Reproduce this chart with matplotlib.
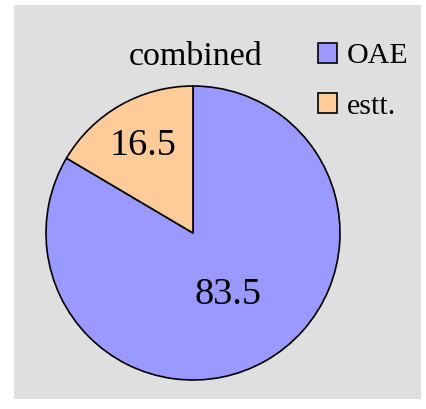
import numpy as np
import matplotlib
matplotlib.use("Agg")
import matplotlib.pyplot as plt
from matplotlib.patches import Patch

title = "combined"
categories = ["OAE", "estt."]
values = [83.5, 16.5]
value_labels = ["83.5", "16.5"]
colors = ["#9999FF", "#FFCC99"]
label_dist = [0.48, 0.68]

W, H = 427, 409
plt.rcParams['font.family'] = ['Liberation Serif', 'DejaVu Serif']
fig = plt.figure(figsize=(W / 100, H / 100), dpi=100, facecolor="white")

# gray chart area
bg = fig.add_axes([14 / W, 1 - 399 / H, (421 - 14) / W, (399 - 5) / H], zorder=-10)
bg.set_facecolor("#DFDFDF")
bg.set_xticks([])
bg.set_yticks([])
for s in bg.spines.values():
    s.set_visible(False)

cx, cy, R = 193, 233, 147
ax = fig.add_axes([(cx - R) / W, (H - cy - R) / H, 2 * R / W, 2 * R / H], zorder=1)
ax.set_facecolor("none")
wedges, _ = ax.pie(values, colors=colors, startangle=90, counterclock=False,
                   radius=1, wedgeprops=dict(edgecolor="black", linewidth=1.2))
ax.set_xlim(-1.0, 1.0)
ax.set_ylim(-1.0, 1.0)
ax.set_aspect("equal")
ax.axis("off")

for w, lab, d in zip(wedges, value_labels, label_dist):
    ang = np.deg2rad((w.theta1 + w.theta2) / 2)
    ax.text(d * np.cos(ang), d * np.sin(ang), lab, ha="center", va="center",
            fontsize=27.5)

fig.text(196 / W, 1 - 65 / H, title, ha="center", va="baseline", fontsize=24.5)

handles = [Patch(facecolor=c, edgecolor="black", linewidth=1.2) for c in colors]
fig.legend(handles, categories, loc="upper left",
           bbox_to_anchor=(318 / W, 1 - 43 / H), frameon=False,
           fontsize=21.6, borderpad=0, borderaxespad=0,
           handlelength=0.63, handleheight=0.63, handletextpad=0.33,
           labelspacing=0.8)

fig.savefig("out.png", dpi=100, facecolor="white")
